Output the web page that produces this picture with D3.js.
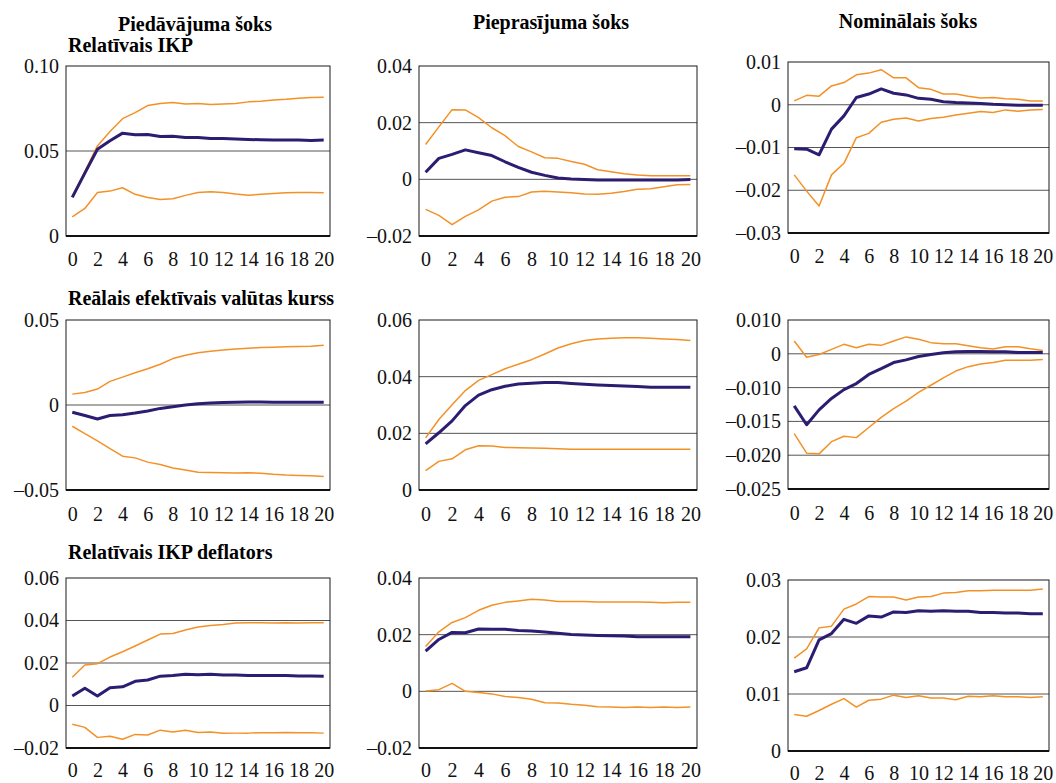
<!DOCTYPE html>
<html>
<head>
<meta charset="utf-8">
<script src="https://cdn.jsdelivr.net/npm/d3@7"></script>
<style>
  html, body { margin: 0; padding: 0; background: #fff; }
  svg { display: block; }
  svg text { font-family: "Liberation Serif", "Times New Roman", serif; }
</style>
</head>
<body>
<svg id="chart" width="1056" height="783"></svg>
<script>
// ---------------- DATA ----------------
const steps = d3.range(0, 21);
const xTickValues = [0, 2, 4, 6, 8, 10, 12, 14, 16, 18, 20];

const columnTitles = ["Piedāvājuma šoks", "Pieprasījuma šoks", "Nominālais šoks"];
const rowTitles = ["Relatīvais IKP", "Reālais efektīvais valūtas kurss", "Relatīvais IKP deflators"];

// Row 1: Relatīvais IKP
const ikpSupplyMid = [0.0227,0.037,0.051,0.056,0.0605,0.0595,0.0597,0.0585,0.0587,0.058,0.058,0.0573,0.0573,0.057,0.0568,0.0566,0.0564,0.0564,0.0564,0.0562,0.0564];
const ikpSupplyHi  = [0.0235,0.038,0.053,0.0615,0.069,0.0726,0.0767,0.078,0.0785,0.0777,0.0779,0.0773,0.0777,0.0779,0.0789,0.0793,0.08,0.0804,0.081,0.0814,0.0816];
const ikpSupplyLo  = [0.0112,0.0162,0.0256,0.0264,0.0284,0.0245,0.0227,0.0215,0.0219,0.0239,0.0256,0.026,0.0256,0.0247,0.024,0.0245,0.025,0.0254,0.0256,0.0256,0.0254];
const ikpSupplyTicks = [0, 0.05, 0.10];

const ikpDemandMid = [0.0025,0.0074,0.0088,0.0104,0.0094,0.0084,0.0062,0.0042,0.0025,0.0014,0.0005,0.0001,-0.0001,-0.0002,-0.0002,-0.0002,-0.0002,-0.0002,-0.0002,-0.0002,-0.0001];
const ikpDemandHi  = [0.0123,0.0185,0.0246,0.0245,0.0218,0.0182,0.0154,0.0116,0.0097,0.0076,0.0074,0.0063,0.0053,0.0034,0.0027,0.002,0.0015,0.0013,0.0013,0.0013,0.0013];
const ikpDemandLo  = [-0.0106,-0.0127,-0.016,-0.0131,-0.0108,-0.0077,-0.0063,-0.0061,-0.0045,-0.0042,-0.0045,-0.0047,-0.0052,-0.0053,-0.0049,-0.0043,-0.0035,-0.0033,-0.0026,-0.0019,-0.0018];
const ikpDemandTicks = [-0.02, 0, 0.02, 0.04];

const ikpNominalMid = [-0.0103,-0.0104,-0.0117,-0.0057,-0.0026,0.0017,0.0025,0.0037,0.0027,0.0023,0.0015,0.0013,0.0007,0.0005,0.0004,0.0003,0.0001,0,-0.0001,-0.0001,-0.0001];
const ikpNominalHi  = [0.0009,0.0022,0.002,0.0044,0.0052,0.007,0.0074,0.0082,0.0063,0.0063,0.004,0.0036,0.0025,0.0025,0.002,0.0016,0.0017,0.0014,0.0013,0.0009,0.0009];
const ikpNominalLo  = [-0.0164,-0.0202,-0.0237,-0.0164,-0.0137,-0.0077,-0.0067,-0.0041,-0.0034,-0.0031,-0.0038,-0.0032,-0.0029,-0.0024,-0.002,-0.0016,-0.0018,-0.0012,-0.0015,-0.0012,-0.0011];
const ikpNominalTicks = [-0.03, -0.02, -0.01, 0, 0.01];

// Row 2: Reālais efektīvais valūtas kurss
const reerSupplyMid = [-0.0043,-0.0062,-0.0082,-0.0062,-0.0057,-0.0047,-0.0035,-0.002,-0.001,0,0.0008,0.0012,0.0014,0.0016,0.0018,0.0018,0.0016,0.0016,0.0016,0.0016,0.0016];
const reerSupplyHi  = [0.0064,0.0074,0.0094,0.0139,0.0164,0.019,0.0213,0.024,0.0273,0.0293,0.0307,0.0316,0.0324,0.033,0.0334,0.0338,0.034,0.0342,0.0344,0.0346,0.0352];
const reerSupplyLo  = [-0.0125,-0.0168,-0.0211,-0.0256,-0.0301,-0.0311,-0.0336,-0.035,-0.0371,-0.0383,-0.0395,-0.0397,-0.0398,-0.04,-0.0398,-0.0402,-0.0408,-0.0412,-0.0414,-0.0416,-0.042];
const reerSupplyTicks = [-0.05, 0, 0.05];

const reerDemandMid = [0.0163,0.0202,0.0244,0.0298,0.0335,0.0354,0.0366,0.0374,0.0377,0.0379,0.0379,0.0376,0.0373,0.0371,0.0369,0.0367,0.0365,0.0363,0.0363,0.0363,0.0363];
const reerDemandHi  = [0.0184,0.0249,0.0301,0.0351,0.0387,0.0407,0.0428,0.0444,0.046,0.048,0.0501,0.0516,0.0528,0.0533,0.0536,0.0537,0.0537,0.0536,0.0533,0.0531,0.0528];
const reerDemandLo  = [0.0068,0.0101,0.011,0.0142,0.0156,0.0155,0.015,0.0149,0.0148,0.0147,0.0146,0.0144,0.0144,0.0144,0.0144,0.0144,0.0144,0.0144,0.0144,0.0144,0.0144];
const reerDemandTicks = [0, 0.02, 0.04, 0.06];

const reerNominalMid = [-0.0127,-0.0155,-0.0133,-0.0116,-0.0103,-0.0088,-0.0061,-0.0044,-0.0026,-0.0018,-0.0008,-0.0002,0.0003,0.0006,0.0007,0.0007,0.0006,0.0006,0.0004,0.0004,0.0004];
const reerNominalHi  = [0.0038,-0.001,-0.0002,0.0013,0.0028,0.0018,0.0028,0.0025,0.0038,0.005,0.0043,0.0033,0.003,0.003,0.0024,0.0018,0.0014,0.0021,0.0021,0.0015,0.001];
const reerNominalLo  = [-0.0168,-0.0197,-0.0198,-0.018,-0.0172,-0.0174,-0.0159,-0.0144,-0.0131,-0.012,-0.0107,-0.0093,-0.0071,-0.0051,-0.0038,-0.003,-0.0026,-0.0019,-0.0019,-0.0019,-0.0017];
const reerNominalTicks = [-0.025, -0.020, -0.015, -0.010, 0, 0.010];

// Row 3: Relatīvais IKP deflators
const deflSupplyMid = [0.0045,0.0081,0.0045,0.0084,0.0088,0.0114,0.012,0.0138,0.0141,0.0147,0.0145,0.0147,0.0144,0.0144,0.0141,0.0141,0.0141,0.0141,0.0139,0.0139,0.0138];
const deflSupplyHi  = [0.0133,0.0191,0.0197,0.0228,0.0253,0.028,0.0308,0.0336,0.0339,0.0355,0.0369,0.0377,0.0381,0.0388,0.0389,0.0389,0.0388,0.0389,0.0388,0.0389,0.0389];
const deflSupplyLo  = [-0.0088,-0.0103,-0.015,-0.0145,-0.0159,-0.0136,-0.0139,-0.0116,-0.0125,-0.0117,-0.0127,-0.0125,-0.0131,-0.013,-0.013,-0.0128,-0.0128,-0.0127,-0.0128,-0.0128,-0.013];
const deflSupplyTicks = [-0.02, 0, 0.02, 0.04, 0.06];

const deflDemandMid = [0.0142,0.0183,0.0208,0.0207,0.022,0.0219,0.0219,0.0215,0.0213,0.0209,0.0205,0.0201,0.0199,0.0197,0.0196,0.0195,0.0193,0.0193,0.0193,0.0193,0.0193];
const deflDemandHi  = [0.0158,0.021,0.0243,0.026,0.0286,0.0304,0.0314,0.0319,0.0325,0.0322,0.0317,0.0317,0.0317,0.0315,0.0315,0.0315,0.0315,0.0314,0.0313,0.0314,0.0314];
const deflDemandLo  = [0.0001,0.0006,0.0028,0,-0.0004,-0.0009,-0.0018,-0.0022,-0.0028,-0.004,-0.0041,-0.0046,-0.0049,-0.0054,-0.0055,-0.0057,-0.0055,-0.0057,-0.0055,-0.0057,-0.0055];
const deflDemandTicks = [-0.02, 0, 0.02, 0.04];

const deflNominalMid = [0.0139,0.0146,0.0195,0.0206,0.0231,0.0224,0.0237,0.0235,0.0244,0.0243,0.0246,0.0245,0.0246,0.0245,0.0245,0.0243,0.0243,0.0242,0.0242,0.0241,0.0241];
const deflNominalHi  = [0.0163,0.0179,0.0216,0.0219,0.0249,0.0258,0.0271,0.027,0.027,0.0265,0.027,0.0271,0.0277,0.0278,0.0281,0.0281,0.0282,0.0282,0.0282,0.0282,0.0284];
const deflNominalLo  = [0.0064,0.0061,0.0071,0.0082,0.0092,0.0077,0.0089,0.0091,0.0098,0.0094,0.0097,0.0093,0.0093,0.009,0.0096,0.0095,0.0097,0.0095,0.0095,0.0094,0.0095];
const deflNominalTicks = [0, 0.01, 0.02, 0.03];

// ---------------- LAYOUT ----------------
const colX = [[66, 330], [419, 697], [788, 1049]];
const colTitlePos = [[195, 31], [551, 29], [908, 28]];
const rowTitlePos = [[68, 52], [68, 305], [68, 559]];

const panels = [
  { r:0, c:0, top:66,  bottom:236, mid:ikpSupplyMid,  hi:ikpSupplyHi,  lo:ikpSupplyLo,  ticks:ikpSupplyTicks,  dec:2 },
  { r:0, c:1, top:66,  bottom:236, mid:ikpDemandMid,  hi:ikpDemandHi,  lo:ikpDemandLo,  ticks:ikpDemandTicks,  dec:2 },
  { r:0, c:2, top:62,  bottom:233, mid:ikpNominalMid, hi:ikpNominalHi, lo:ikpNominalLo, ticks:ikpNominalTicks, dec:2 },
  { r:1, c:0, top:320, bottom:490, mid:reerSupplyMid, hi:reerSupplyHi, lo:reerSupplyLo, ticks:reerSupplyTicks, dec:2 },
  { r:1, c:1, top:320, bottom:490, mid:reerDemandMid, hi:reerDemandHi, lo:reerDemandLo, ticks:reerDemandTicks, dec:2 },
  { r:1, c:2, top:320, bottom:489, mid:reerNominalMid,hi:reerNominalHi,lo:reerNominalLo,ticks:reerNominalTicks,dec:3, piecewise:true },
  { r:2, c:0, top:578, bottom:748, mid:deflSupplyMid, hi:deflSupplyHi, lo:deflSupplyLo, ticks:deflSupplyTicks, dec:2 },
  { r:2, c:1, top:578, bottom:748, mid:deflDemandMid, hi:deflDemandHi, lo:deflDemandLo, ticks:deflDemandTicks, dec:2 },
  { r:2, c:2, top:580, bottom:751, mid:deflNominalMid,hi:deflNominalHi,lo:deflNominalLo,ticks:deflNominalTicks,dec:2 }
];

const BLUE = "#2c1d72";
const ORANGE = "#f39127";
const GRID = "#555";
const SERIF = "'Liberation Serif', 'Times New Roman', serif";

const svg = d3.select("#chart");
svg.append("rect").attr("width", 1056).attr("height", 783).attr("fill", "#fff");

const fmt = (v, dec) => v === 0 ? "0" : (v < 0 ? "\u2013" : "") + Math.abs(v).toFixed(dec);

// titles
columnTitles.forEach((t, i) => {
  svg.append("text").attr("x", colTitlePos[i][0]).attr("y", colTitlePos[i][1])
    .attr("text-anchor", "middle").attr("font-weight", "bold").style("font-size", "20px")
    .style("font-family", SERIF).attr("fill", "#000").text(t);
});
rowTitles.forEach((t, i) => {
  svg.append("text").attr("x", rowTitlePos[i][0]).attr("y", rowTitlePos[i][1])
    .attr("text-anchor", "start").attr("font-weight", "bold").style("font-size", "20px")
    .style("font-family", SERIF).attr("fill", "#000").text(t);
});

panels.forEach(p => {
  const [left, right] = colX[p.c];
  const x = d3.scalePoint().domain(steps).range([left, right]).padding(0.5);
  const sorted = p.ticks.slice().sort((a, b) => a - b);
  let y;
  if (p.piecewise) {
    // tick labels are evenly spaced in the original, so use a polylinear scale
    const n = sorted.length - 1;
    y = d3.scaleLinear().domain(sorted)
      .range(sorted.map((d, i) => p.bottom - (p.bottom - p.top) * i / n));
  } else {
    y = d3.scaleLinear().domain([sorted[0], sorted[sorted.length - 1]]).range([p.bottom, p.top]);
  }
  const g = svg.append("g");

  // gridlines (interior ticks)
  g.selectAll("line.grid").data(sorted.slice(1, -1)).enter().append("line")
    .attr("x1", left).attr("x2", right)
    .attr("y1", d => y(d)).attr("y2", d => y(d))
    .attr("stroke", GRID).attr("stroke-width", 1);

  // box
  g.append("rect").attr("x", left).attr("y", p.top)
    .attr("width", right - left).attr("height", p.bottom - p.top)
    .attr("fill", "none").attr("stroke", "#1a1a1a").attr("stroke-width", 1);
  g.append("line").attr("x1", left).attr("x2", right)
    .attr("y1", p.bottom).attr("y2", p.bottom)
    .attr("stroke", "#111").attr("stroke-width", 2);

  // y axis
  const ya = g.append("g").attr("transform", `translate(${left},0)`)
    .call(d3.axisLeft(y).tickValues(sorted).tickSize(0).tickPadding(7)
      .tickFormat(d => fmt(d, p.dec)));
  ya.attr("font-family", null).attr("font-size", null);
  ya.select(".domain").remove();
  ya.selectAll("text").style("font-size", "20px").style("font-family", SERIF).attr("fill", "#111");

  // x axis
  const xa = g.append("g").attr("transform", `translate(0,${p.bottom})`)
    .call(d3.axisBottom(x).tickValues(xTickValues).tickSize(0));
  xa.attr("font-family", null).attr("font-size", null);
  xa.select(".domain").remove();
  xa.selectAll("text").style("font-size", "20px").style("font-family", SERIF)
    .attr("fill", "#111").attr("y", p.r === 0 ? 30 : (p.r === 1 ? 31 : 29)).attr("dy", null);

  const line = d3.line().x((d, i) => x(steps[i])).y(d => y(d));
  [p.hi, p.lo].forEach(arr => {
    g.append("path").datum(arr).attr("d", line)
      .attr("fill", "none").attr("stroke", ORANGE).attr("stroke-width", 1.5)
      .attr("stroke-linejoin", "round");
  });
  g.append("path").datum(p.mid).attr("d", line)
    .attr("fill", "none").attr("stroke", BLUE).attr("stroke-width", 3)
    .attr("stroke-linejoin", "round");
});
</script>
</body>
</html>
